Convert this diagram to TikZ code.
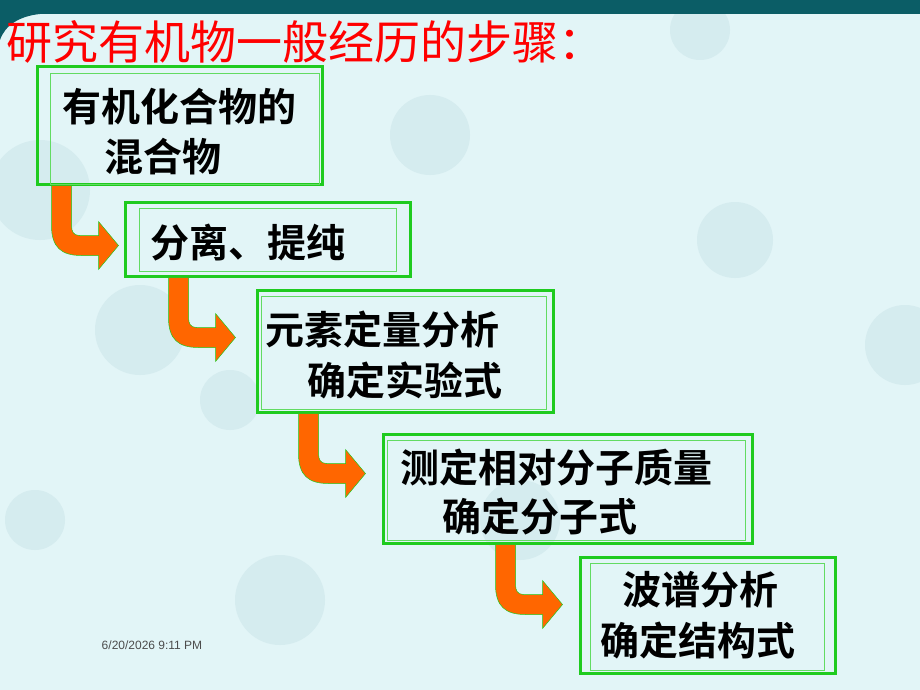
\documentclass[tikz,border=0pt]{standalone}
\usepackage{fontspec}
\setmainfont{Liberation Sans}
\newfontfamily\cjk{Noto Sans CJK SC}[BoldFont={Noto Sans CJK SC Bold}]
\definecolor{bgcyan}{HTML}{E2F5F7}
\definecolor{bubble}{HTML}{D5ECEF}
\definecolor{band}{HTML}{0B5D66}
\definecolor{boxgreen}{HTML}{1FCB1F}
\definecolor{arroworange}{HTML}{FF6600}
\tikzset{
  box/.style={draw=boxgreen, line width=3pt, rectangle, inner sep=0pt},
  innerbox/.style={draw=boxgreen!70, line width=0.8pt},
  steptext/.style={anchor=west, inner sep=0pt, font=\cjk\bfseries\fontsize{39}{42}\selectfont},
  bend arrow/.pic={
    \fill[arroworange, draw=boxgreen, line width=0.5pt]
      (0,0) -- (0,40) .. controls (0,62) and (10,70) .. (30,70) -- (47,70) -- (47,84)
      -- (67,60) -- (47,36) -- (47,50) -- (28,50) .. controls (22,50) and (20,46) .. (20,40)
      -- (20,0) -- cycle;
  }
}
\begin{document}
\begin{tikzpicture}[x=1pt, y=-1pt]
    \useasboundingbox (0,0) rectangle (920,690);
    %Background
    \fill[bgcyan] (0,0) rectangle (920,690);
    \foreach \cx/\cy/\r in {40/190/50, 140/330/45, 735/240/38, 905/345/40, 430/135/40, 280/600/45, 520/520/40, 700/30/30, 35/520/30, 230/400/30}
        \fill[bubble] (\cx,\cy) circle (\r);
    \fill[band] (0,0) rectangle (920,14);
    \fill[band] (0,14) -- (40,14) .. controls (20,16) and (5,25) .. (0,40) -- cycle;

    %Title
    \node[anchor=west, inner sep=0pt, text=red, font=\cjk\fontsize{46}{48}\selectfont] at (6,42) (title) {研究有机物一般经历的步骤：};

    %Boxes
    \node[box, minimum width=285pt, minimum height=117pt] at (179.5,125.5) (b1) {};
    \node[box, minimum width=285pt, minimum height=74pt] at (267.5,239) (b2) {};
    \node[box, minimum width=296pt, minimum height=122pt] at (405,351) (b3) {};
    \node[box, minimum width=369pt, minimum height=109pt] at (567.5,488.5) (b4) {};
    \node[box, minimum width=255pt, minimum height=116pt] at (707.5,615) (b5) {};

    \draw[innerbox] ([shift={(15,8)}]b1.north west) rectangle ([shift={(-4,-1)}]b1.south east);
    \draw[innerbox] ([shift={(16,8)}]b2.north west) rectangle ([shift={(-15,-6)}]b2.south east);
    \draw[innerbox] ([shift={(6,8)}]b3.north west) rectangle ([shift={(-8,-4)}]b3.south east);
    \draw[innerbox] ([shift={(6,8)}]b4.north west) rectangle ([shift={(-8,-4)}]b4.south east);
    \draw[innerbox] ([shift={(12,8)}]b5.north west) rectangle ([shift={(-12,-4)}]b5.south east);

    %Texts
    \node[steptext] at (62,107) (t1a) {有机化合物的};
    \node[steptext] at (104,157) (t1b) {混合物};
    \node[steptext] at (150,243) (t2) {分离、提纯};
    \node[steptext] at (265,330) (t3a) {元素定量分析};
    \node[steptext] at (307,380) (t3b) {确定实验式};
    \node[steptext] at (400,468) (t4a) {测定相对分子质量};
    \node[steptext] at (442,517) (t4b) {确定分子式};
    \node[steptext] at (622,590) (t5a) {波谱分析};
    \node[steptext] at (600,640) (t5b) {确定结构式};

    %Arrows
    \pic at ([shift={(16,0)}]b1.south west) {bend arrow};
    \pic at ([shift={(45,0)}]b2.south west) {bend arrow};
    \pic at ([shift={(43,0)}]b3.south west) {bend arrow};
    \pic at ([shift={(114,0)}]b4.south west) {bend arrow};

    %Date
    \node[text=black!70, font=\fontsize{12}{14}\selectfont] at (152,645) (date) {6/20/2026 9:11 PM};
\end{tikzpicture}
\end{document}
